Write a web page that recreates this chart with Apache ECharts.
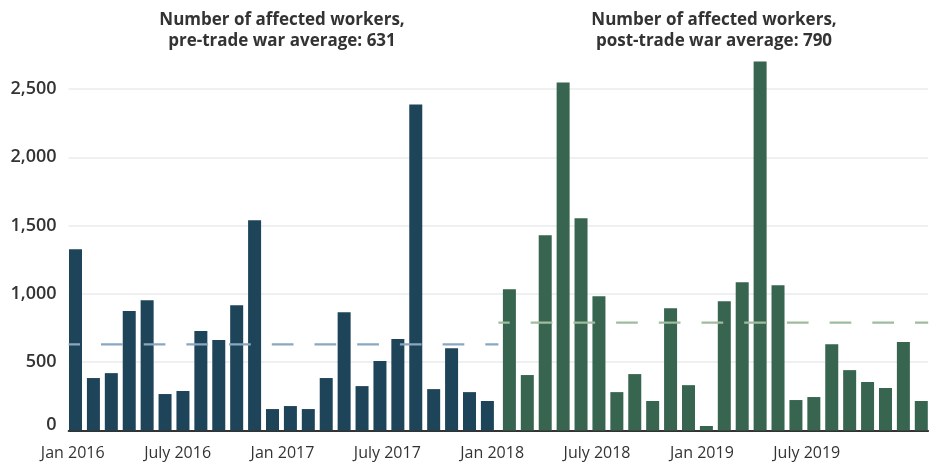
<!DOCTYPE html>
<html>
<head>
<meta charset="utf-8">
<script src="https://cdn.jsdelivr.net/npm/echarts@6/dist/echarts.min.js"></script>
<style>
html,body{margin:0;padding:0;background:#fff;}
#chart{width:934px;height:468px;}
</style>
</head>
<body>
<div id="chart"></div>
<script>
// ---- data ----
var months = [
  'Jan 2016','Feb 2016','Mar 2016','Apr 2016','May 2016','Jun 2016','Jul 2016','Aug 2016','Sep 2016','Oct 2016','Nov 2016','Dec 2016',
  'Jan 2017','Feb 2017','Mar 2017','Apr 2017','May 2017','Jun 2017','Jul 2017','Aug 2017','Sep 2017','Oct 2017','Nov 2017','Dec 2017',
  'Jan 2018','Feb 2018','Mar 2018','Apr 2018','May 2018','Jun 2018','Jul 2018','Aug 2018','Sep 2018','Oct 2018','Nov 2018','Dec 2018',
  'Jan 2019','Feb 2019','Mar 2019','Apr 2019','May 2019','Jun 2019','Jul 2019','Aug 2019','Sep 2019','Oct 2019','Nov 2019','Dec 2019'
];
var preTradeWar = [1327, 384, 420, 874, 954, 267, 289, 728, 662, 917, 1539, 157,
                   179, 157, 384, 866, 325, 508, 669, 2387, 303, 603, 281, 216];
var postTradeWar = [1034, 406, 1429, 2548, 1553, 983, 281, 413, 216, 895, 332, 33,
                    946, 1085, 2701, 1063, 223, 245, 632, 442, 355, 311, 647, 216];
var preAverage = 631;
var postAverage = 790;
var tickLabels = ['Jan 2016','July 2016','Jan 2017','July 2017','Jan 2018','July 2018','Jan 2019','July 2019'];
var yTicks = [0, 500, 1000, 1500, 2000, 2500];

// ---- build series arrays ----
var nPre = preTradeWar.length;
var preData = [], postData = [];
for (var i = 0; i < months.length; i++) {
  preData.push(i < nPre ? preTradeWar[i] : '-');
  postData.push(i >= nPre ? postTradeWar[i - nPre] : '-');
}

var chart = echarts.init(document.getElementById('chart'), null, {renderer: 'canvas'});
var FONT = '"Open Sans", "Noto Sans", sans-serif';
var TXT = '#333333';

var option = {
  animation: false,
  backgroundColor: '#ffffff',
  graphic: [
    {type: 'text', x: 282, y: 10, z: 10,
     style: {text: 'Number of affected workers,\npre-trade war average: ' + preAverage,
             align: 'center', verticalAlign: 'top', lineHeight: 21,
             fontSize: 17, fontWeight: 'bold', fontFamily: FONT, fill: TXT}},
    {type: 'text', x: 714, y: 10, z: 10,
     style: {text: 'Number of affected workers,\npost-trade war average: ' + postAverage,
             align: 'center', verticalAlign: 'top', lineHeight: 21,
             fontSize: 17, fontWeight: 'bold', fontFamily: FONT, fill: TXT}}
  ],
  grid: [
    {left: 68.6, right: 5.8, top: 89, bottom: 37.5},
    {left: 20.3, width: 838.9, top: 89, bottom: 37.5}
  ],
  xAxis: [
    {type: 'category', gridIndex: 0, data: months,
     axisLine: {show: true, lineStyle: {color: '#333333', width: 1.8}},
     axisTick: {show: false}, axisLabel: {show: false}, splitLine: {show: false}},
    {type: 'value', gridIndex: 0, min: 0, max: months.length, show: false},
    {type: 'category', gridIndex: 1, data: tickLabels,
     axisLine: {show: false}, axisTick: {show: false},
     axisLabel: {show: true, margin: 15, color: TXT, fontSize: 16, fontFamily: FONT}}
  ],
  yAxis: [
    {type: 'value', gridIndex: 0, min: yTicks[0], max: yTicks[yTicks.length - 1], interval: 500,
     axisLine: {show: false}, axisTick: {show: false},
     axisLabel: {margin: 12, color: TXT, fontSize: 18, fontWeight: 600, fontFamily: FONT,
       formatter: function (v) {
         var s = v.toLocaleString('en-US');
         return v === 0 ? '{z|' + s + '}' : s;
       },
       rich: {z: {fontSize: 18, fontWeight: 600, fontFamily: FONT, color: TXT, padding: [0, 0, 12, 0]}}},
     splitLine: {show: true, lineStyle: {color: '#e9ebee', width: 1.5}}},
    {type: 'value', gridIndex: 1, show: false, min: 0, max: 1}
  ],
  series: [
    {type: 'bar', name: 'Pre-trade war', xAxisIndex: 0, yAxisIndex: 0, data: preData,
     barWidth: 13, barGap: '-68.5%', clip: false,
     itemStyle: {color: '#1e4459'}},
    {type: 'bar', name: 'Post-trade war', xAxisIndex: 0, yAxisIndex: 0, data: postData,
     barWidth: 13, barGap: '-68.5%', clip: false,
     itemStyle: {color: '#386550'}},
    {type: 'line', name: 'Pre average', xAxisIndex: 1, yAxisIndex: 0, z: 5,
     data: [[0, preAverage], [nPre, preAverage]], symbol: 'none', silent: true,
     lineStyle: {color: '#8ba6bf', width: 2.2, type: [21.7, 21], dashOffset: 10.3}},
    {type: 'line', name: 'Post average', xAxisIndex: 1, yAxisIndex: 0, z: 5,
     data: [[nPre, postAverage], [months.length, postAverage]], symbol: 'none', silent: true,
     lineStyle: {color: '#9fbc9f', width: 2.2, type: [21.7, 21], dashOffset: 10.4}}
  ]
};
chart.setOption(option);
</script>
</body>
</html>
